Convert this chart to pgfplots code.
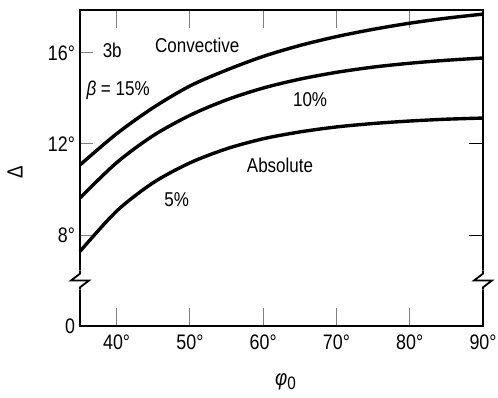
\documentclass[border=0pt]{standalone}
\usepackage{fontspec}
\setmainfont{Liberation Sans}[FakeStretch=0.85]
\usepackage{pgfplots}
\pgfplotsset{compat=1.18}
\usepackage{pgfplotstable}

\pgfplotstableread{
phi d
35 11.08
40 12.45
45 13.60
50 14.55
55 15.25
60 15.85
65 16.33
70 16.72
75 17.04
80 17.31
85 17.53
90 17.71
}\topcurve
\pgfplotstableread{
phi d
35 9.63
40 11.18
45 12.37
50 13.26
55 13.94
60 14.46
65 14.85
70 15.15
75 15.38
80 15.55
85 15.68
90 15.78
}\midcurve
\pgfplotstableread{
phi d
35 7.28
40 9.05
45 10.30
50 11.17
55 11.79
60 12.23
65 12.53
70 12.75
75 12.90
80 13.01
85 13.09
90 13.14
}\lowcurve

\begin{document}
\begin{tikzpicture}
\begin{axis}[
  scale only axis,
  width=201.5pt, height=158pt,
  xmin=35, xmax=90, ymin=0, ymax=13.89,
  clip=false,
  axis line style={line width=0.9pt},
  xtick={40,50,60,70,80,90},
  xticklabels={40°,50°,60°,70°,80°,90°},
  ytick={0,4,8,12},
  yticklabels={0,8°,12°,16°},
  ytick pos=left,
  tick align=inside,
  x tick style={line width=0.5pt, /pgfplots/major tick length=9pt},
  y tick style={line width=0.5pt, /pgfplots/major tick length=6.5pt},
  ticklabel style={font=\fontsize{10.5}{12}\selectfont},
  xticklabel style={yshift=-1pt},
  yticklabel style={xshift=1pt},
]
\addplot[black, line width=1.7pt, smooth] table[x=phi, y expr=\thisrow{d}-4] {\topcurve};
\addplot[black, line width=1.7pt, smooth] table[x=phi, y expr=\thisrow{d}-4] {\midcurve};
\addplot[black, line width=1.7pt, smooth] table[x=phi, y expr=\thisrow{d}-4] {\lowcurve};

% right-side ticks
\draw[line width=0.5pt] (axis cs:90,4) -- ([xshift=-7pt]axis cs:90,4);
\draw[line width=0.5pt] (axis cs:90,8) -- ([xshift=-7pt]axis cs:90,8);

% axis breaks
\fill[white] ([xshift=-2pt]axis cs:35,1.6) rectangle ([xshift=2pt]axis cs:35,2.45);
\fill[white] ([xshift=-2pt]axis cs:90,1.6) rectangle ([xshift=2pt]axis cs:90,2.45);
\draw[line width=0.9pt] (axis cs:35,2.45) -- (axis cs:35,2.3) -- ([xshift=-4.5pt]axis cs:35,2.0) -- ([xshift=4.5pt]axis cs:35,2.0) -- (axis cs:35,1.7) -- (axis cs:35,1.6);
\draw[line width=0.9pt] (axis cs:90,2.45) -- (axis cs:90,2.3) -- ([xshift=-4.5pt]axis cs:90,2.0) -- ([xshift=4.5pt]axis cs:90,2.0) -- (axis cs:90,1.7) -- (axis cs:90,1.6);

\begin{scope}[every node/.style={font=\fontsize{10}{12}\selectfont, inner sep=0pt}]
\node at (axis cs:39.4,12.13) {3b};
\node at (axis cs:51.0,12.35) {Convective};
\node at (axis cs:40.2,10.37) {\textit{β} = 15\%};
\node at (axis cs:66.4,9.93) {10\%};
\node at (axis cs:62.3,7.08) {Absolute};
\node at (axis cs:48.2,5.54) {5\%};
\end{scope}

\node[rotate=90, font=\fontsize{11}{12}\selectfont] at ([xshift=-32.5pt]rel axis cs:0,0.487) {Δ};
\node[font=\fontsize{11}{12}\selectfont] at ([yshift=-28pt]rel axis cs:0.51,0) {\textit{φ}\raisebox{-0.35ex}{\fontsize{9}{10}\selectfont 0}};

\coordinate (ll) at (rel axis cs:0,0);
\coordinate (ur) at (rel axis cs:1,1);
\end{axis}
\pgfresetboundingbox
\path ([xshift=-40pt,yshift=-35.5pt]ll) rectangle ([xshift=7.5pt,yshift=5pt]ur);
\end{tikzpicture}
\end{document}
